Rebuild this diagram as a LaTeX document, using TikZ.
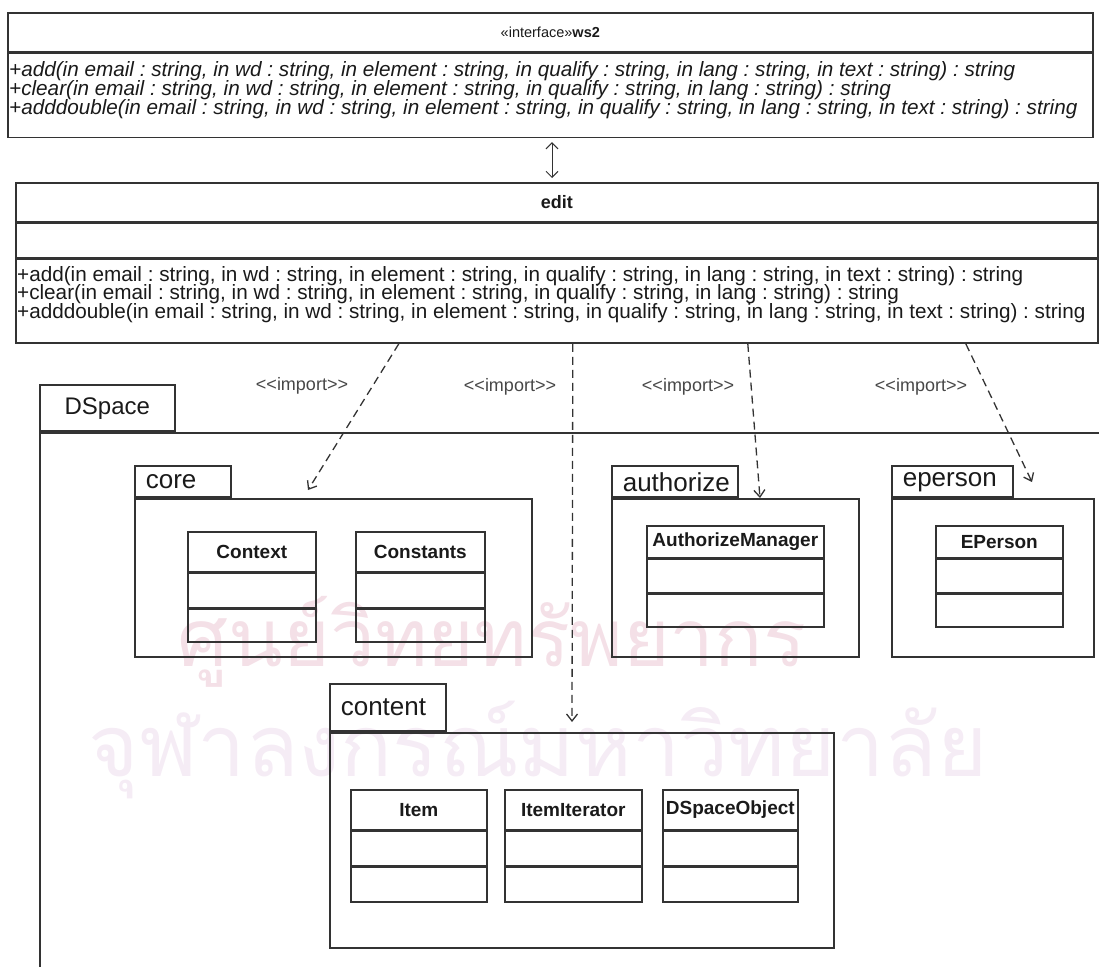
\documentclass[tikz,border=0pt]{standalone}
\usepackage{fontspec}
\setmainfont{Liberation Sans}
\newfontfamily\thaifont[Script=Thai]{Loma}
\usepackage{xcolor}
\usetikzlibrary{arrows.meta, positioning}
\definecolor{umlline}{HTML}{333333}
\definecolor{umltext}{HTML}{1A1A1A}
\definecolor{wmpink}{HTML}{F4E0E7}
\definecolor{wmlilac}{HTML}{F5ECF5}
\newcommand{\opfont}{\fontsize{20.7}{20.7}\selectfont}
\frenchspacing
\tikzset{%
    umlbox/.style={draw=umlline, line width=1.6pt, inner sep=0pt, anchor=north west},
    classname/.style={umlbox, font=\fontsize{19}{19}\selectfont\bfseries, text=umltext},
    pkgtab/.style={draw=umlline, line width=1.6pt, inner xsep=11pt, inner ysep=0pt, align=left, anchor=south west, font=\fontsize{26}{26}\selectfont, text=umltext},
    opline/.style={anchor=base west, inner sep=0pt, font=\opfont, text=umltext},
    absop/.style={opline, font=\opfont\itshape},
    import/.style={draw=umlline, line width=1.3pt, dash pattern=on 8pt off 5pt, -{Straight Barb[length=7pt, width=11pt]}},
    importlbl/.style={inner sep=1pt, font=\fontsize{18}{18}\selectfont, text=black!72},
    watermark/.style={inner sep=0pt, font=\thaifont\fontsize{80}{80}\selectfont}
}
\begin{document}
\begin{tikzpicture}[x=1pt, y=-1pt]
    \useasboundingbox (0,0) rectangle (1099,966);
    \clip (0,0) rectangle (1099,966);
    % watermark of the scan
    \node[watermark, text=wmpink] (wmtop) at (492,642) {ศูนย์วิทยทรัพยากร};
    \node[watermark, text=wmlilac, font=\thaifont\fontsize{86}{86}\selectfont] (wmbottom) at (538,750) {จุฬาลงกรณ์มหาวิทยาลัย};
    % interface ws2
    \node[umlbox, minimum width=1085pt, minimum height=39pt] (ws2) at (7,12) {};
    \node[umlbox, minimum width=1085pt, minimum height=84pt, below=0pt of ws2] (ws2ops) {};
    \node[font=\fontsize{14.5}{14.5}\selectfont, text=umltext] (ws2name) at (ws2.center) {«interface»\textbf{ws2}};
    \node[absop] (ws2op1) at (9,77) {+add(in email : string, in wd : string, in element : string, in qualify : string, in lang : string, in text : string) : string};
    \node[absop] (ws2op2) at (9,95.5) {+clear(in email : string, in wd : string, in element : string, in qualify : string, in lang : string) : string};
    \node[absop] (ws2op3) at (9,114) {+adddouble(in email : string, in wd : string, in element : string, in qualify : string, in lang : string, in text : string) : string};
    % class edit
    \node[umlbox, minimum width=1082pt, minimum height=39pt] (edit) at (15,182) {};
    \node[umlbox, minimum width=1082pt, minimum height=34pt, below=0pt of edit] (editattr) {};
    \node[umlbox, minimum width=1082pt, minimum height=84pt, below=0pt of editattr] (editops) {};
    \node[font=\fontsize{18}{18}\selectfont\bfseries, text=umltext] (editname) at (edit.center) {edit};
    \node[opline] (editop1) at (17,281) {+add(in email : string, in wd : string, in element : string, in qualify : string, in lang : string, in text : string) : string};
    \node[opline] (editop2) at (17,299.5) {+clear(in email : string, in wd : string, in element : string, in qualify : string, in lang : string) : string};
    \node[opline] (editop3) at (17,318) {+adddouble(in email : string, in wd : string, in element : string, in qualify : string, in lang : string, in text : string) : string};
    \coordinate (dbl) at (552,0);
    \draw[umlline, line width=1pt, {Straight Barb[length=6pt, width=12pt]}-{Straight Barb[length=6pt, width=12pt]}, shorten <=4pt, shorten >=4pt] (ws2ops.south -| dbl) -- (edit.north -| dbl);
    % package DSpace
    \node[pkgtab, align=center, minimum width=135pt, minimum height=46pt, font=\fontsize{24}{24}\selectfont] (dspacetab) at (39,432) {DSpace};
    \node[umlbox, minimum width=1100pt, minimum height=600pt] (dspace) at (dspacetab.south west) {};
    % package core
    \node[pkgtab, text width=74pt, minimum height=31pt] (coretab) at (134,498) {core};
    \node[umlbox, minimum width=397pt, minimum height=158pt] (core) at (coretab.south west) {};
    \node[classname, minimum width=128pt, minimum height=40pt] (context) at (187,531) {Context};
    \node[classname, minimum width=128pt, minimum height=34pt, below=0pt of context] (contextattr) {};
    \node[classname, minimum width=128pt, minimum height=33pt, below=0pt of contextattr] (contextops) {};
    \node[classname, minimum width=129pt, minimum height=40pt] (constants) at (355,531) {Constants};
    \node[classname, minimum width=129pt, minimum height=34pt, below=0pt of constants] (constantsattr) {};
    \node[classname, minimum width=129pt, minimum height=33pt, below=0pt of constantsattr] (constantsops) {};
    % package authorize
    \node[pkgtab, text width=104pt, minimum height=31pt] (authorizetab) at (611,498) {authorize};
    \node[umlbox, minimum width=247pt, minimum height=158pt] (authorize) at (authorizetab.south west) {};
    \node[classname, minimum width=177pt, minimum height=32pt] (authmgr) at (646,525) {AuthorizeManager};
    \node[classname, minimum width=177pt, minimum height=33pt, below=0pt of authmgr] (authmgrattr) {};
    \node[classname, minimum width=177pt, minimum height=33pt, below=0pt of authmgrattr] (authmgrops) {};
    % package eperson
    \node[pkgtab, text width=99pt, minimum height=31pt] (epersontab) at (891,498) {eperson};
    \node[umlbox, minimum width=202pt, minimum height=158pt] (eperson) at (epersontab.south west) {};
    \node[classname, minimum width=127pt, minimum height=32pt] (epersoncls) at (935,525) {EPerson};
    \node[classname, minimum width=127pt, minimum height=33pt, below=0pt of epersoncls] (epersonattr) {};
    \node[classname, minimum width=127pt, minimum height=33pt, below=0pt of epersonattr] (epersonops) {};
    % package content
    \node[pkgtab, text width=94pt, minimum height=47pt] (contenttab) at (329,732) {content};
    \node[umlbox, minimum width=504pt, minimum height=215pt] (content) at (contenttab.south west) {};
    \node[classname, minimum width=136pt, minimum height=40pt] (item) at (350,789) {Item};
    \node[classname, minimum width=136pt, minimum height=34pt, below=0pt of item] (itemattr) {};
    \node[classname, minimum width=136pt, minimum height=35pt, below=0pt of itemattr] (itemops) {};
    \node[classname, minimum width=137pt, minimum height=40pt] (itemiter) at (504,789) {ItemIterator};
    \node[classname, minimum width=137pt, minimum height=34pt, below=0pt of itemiter] (itemiterattr) {};
    \node[classname, minimum width=137pt, minimum height=35pt, below=0pt of itemiterattr] (itemiterops) {};
    \node[classname, minimum width=135pt, minimum height=40pt] (dsobject) at (662,789) {DSpaceObject};
    \node[classname, minimum width=135pt, minimum height=34pt, below=0pt of dsobject] (dsobjectattr) {};
    \node[classname, minimum width=135pt, minimum height=35pt, below=0pt of dsobjectattr] (dsobjectops) {};
    % imports
    \draw[import] ([xshift=-158pt]editops.south) -- ([xshift=174pt, yshift=8pt]core.north west);
    \draw[import] ([xshift=16pt]editops.south) -- ([xshift=243pt, yshift=10pt]content.north west);
    \draw[import] ([xshift=191pt]editops.south) -- ([xshift=149pt]authorize.north west);
    \draw[import] ([xshift=409pt]editops.south) -- ([xshift=141pt, yshift=16pt]eperson.north west);
    \node[importlbl] (imp1) at (302,386) {<{}<import>{}>};
    \node[importlbl] (imp2) at (510,387) {<{}<import>{}>};
    \node[importlbl] (imp3) at (688,387) {<{}<import>{}>};
    \node[importlbl] (imp4) at (921,387) {<{}<import>{}>};
\end{tikzpicture}
\end{document}
